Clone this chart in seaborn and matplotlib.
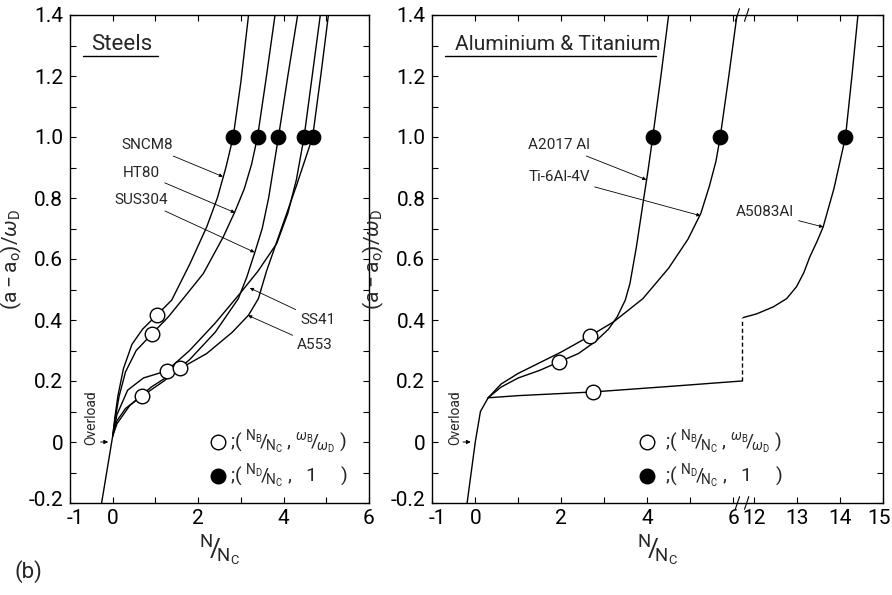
import numpy as np
import matplotlib
matplotlib.use("Agg")
import matplotlib.pyplot as plt
import matplotlib.transforms as mtransforms
import seaborn as sns

sns.set_theme(style="ticks")
plt.rcParams["font.family"] = ["Roboto", "DejaVu Sans"]
plt.rcParams["mathtext.fontset"] = "custom"
plt.rcParams["mathtext.rm"] = "Roboto"
plt.rcParams["mathtext.sf"] = "Roboto"
plt.rcParams["mathtext.it"] = "Roboto:italic"

# ---------------- Steels ----------------
steel_overload_x = [-0.26, 0.0]
steel_overload_y = [-0.20, 0.02]

sncm8_x = [0.0, 0.05, 0.12, 0.25, 0.45, 0.70, 1.03, 1.38, 1.81, 2.20, 2.45, 2.65, 2.82, 3.00, 3.18]
sncm8_y = [0.02, 0.08, 0.15, 0.24, 0.32, 0.37, 0.416, 0.465, 0.585, 0.705, 0.80, 0.90, 1.0, 1.18, 1.4]

ht80_x = [0.0, 0.05, 0.15, 0.30, 0.55, 0.91, 1.30, 1.62, 2.12, 2.59, 2.86, 3.08, 3.25, 3.39, 3.60, 3.80]
ht80_y = [0.02, 0.07, 0.15, 0.23, 0.30, 0.353, 0.41, 0.465, 0.552, 0.673, 0.755, 0.83, 0.91, 1.0, 1.2, 1.4]

sus304_x = [0.0, 0.10, 0.30, 0.68, 1.20, 1.80, 2.40, 2.94, 3.14, 3.33, 3.50, 3.65, 3.88, 4.10, 4.33]
sus304_y = [0.02, 0.07, 0.11, 0.15, 0.20, 0.27, 0.36, 0.47, 0.541, 0.623, 0.70, 0.80, 1.0, 1.2, 1.4]

ss41_x = [0.0, 0.10, 0.35, 0.72, 1.26, 1.80, 2.40, 2.98, 3.40, 3.84, 4.10, 4.30, 4.48, 4.67, 4.86]
ss41_y = [0.02, 0.09, 0.17, 0.21, 0.233, 0.30, 0.39, 0.487, 0.56, 0.651, 0.75, 0.86, 1.0, 1.2, 1.4]

a553_x = [0.0, 0.10, 0.40, 0.90, 1.58, 2.20, 2.80, 3.18, 3.41, 3.60, 3.90, 4.30, 4.68, 4.87, 5.05]
a553_y = [0.02, 0.06, 0.12, 0.18, 0.241, 0.29, 0.36, 0.416, 0.47, 0.56, 0.68, 0.84, 1.0, 1.2, 1.4]

steel_nb_x = [1.03, 0.91, 0.68, 1.26, 1.58]
steel_nb_y = [0.416, 0.353, 0.15, 0.233, 0.241]
steel_nd_x = [2.82, 3.39, 3.88, 4.48, 4.68]
steel_nd_y = [1.0, 1.0, 1.0, 1.0, 1.0]

# ---------------- Aluminium & Titanium ----------------
al_overload_x = [-0.19, 0.0, 0.12, 0.30]
al_overload_y = [-0.20, 0.0, 0.10, 0.145]

a2017_x = [0.30, 0.60, 1.00, 1.50, 1.94, 2.40, 2.80, 3.10, 3.30, 3.49, 3.60, 3.75, 3.90, 4.02, 4.13, 4.32, 4.50]
a2017_y = [0.145, 0.18, 0.21, 0.235, 0.262, 0.29, 0.33, 0.37, 0.41, 0.465, 0.52, 0.64, 0.78, 0.89, 1.0, 1.2, 1.4]

ti_x = [0.30, 0.60, 1.00, 1.50, 2.00, 2.66, 3.22, 3.90, 4.50, 4.95, 5.25, 5.45, 5.60, 5.70, 5.90, 6.09]
ti_y = [0.145, 0.19, 0.225, 0.26, 0.295, 0.347, 0.394, 0.47, 0.57, 0.665, 0.75, 0.84, 0.92, 1.0, 1.2, 1.4]

a5083_low_x = [0.30, 1.00, 2.73, 4.50, 6.22]
a5083_low_y = [0.145, 0.152, 0.164, 0.182, 0.20]
a5083_jump_x = [6.22, 6.22]
a5083_jump_y = [0.20, 0.408]
a5083_high_x = [11.74, 12.05, 12.44, 12.75, 12.98, 13.15, 13.29, 13.45, 13.60, 13.85, 14.12, 14.27, 14.41]
a5083_high_y = [0.408, 0.42, 0.443, 0.47, 0.509, 0.555, 0.607, 0.655, 0.705, 0.83, 1.0, 1.2, 1.4]

al_nb_x = [1.94, 2.66, 2.73]
al_nb_y = [0.262, 0.347, 0.164]
al_nd_x = [4.13, 5.70, 14.12]
al_nd_y = [1.0, 1.0, 1.0]

x_ticks_left = [-1, 0, 1, 2, 3, 4, 5, 6]
x_labels_left = ["-1", "0", "", "2", "", "4", "", "6"]
x_ticks_right = [-1, 0, 1, 2, 3, 4, 5, 6, 12, 13, 14, 15]
x_labels_right = ["-1", "0", "", "2", "", "4", "", "6", "12", "13", "14", "15"]
y_ticks = [-0.2, -0.1, 0.0, 0.1, 0.2, 0.3, 0.4, 0.5, 0.6, 0.7, 0.8, 0.9, 1.0, 1.1, 1.2, 1.3, 1.4]
y_labels = ["-0.2", "", "0", "", "0.2", "", "0.4", "", "0.6", "", "0.8", "", "1.0", "", "1.2", "", "1.4"]

# break in the N/Nc axis between 6.2 and 11.7
BREAK_LO, BREAK_HI = 6.2, 11.705
SHIFT = BREAK_HI - BREAK_LO


def fwd(x):
    x = np.asarray(x, dtype=float)
    return np.where(x <= BREAK_LO, x, np.where(x >= BREAK_HI, x - SHIFT, BREAK_LO))


def inv(f):
    f = np.asarray(f, dtype=float)
    return np.where(f <= BREAK_LO, f, f + SHIFT)


LW = 1.0
fig = plt.figure(figsize=(8.92, 5.95), dpi=100)
fig.patch.set_facecolor("white")
axL = fig.add_axes([70 / 892, 92 / 595, 299 / 892, 488 / 595])
axR = fig.add_axes([432.3 / 892, 92 / 595, 451 / 892, 488 / 595])
axR.set_xscale("function", functions=(fwd, inv))


def curve(ax, xs, ys, ls="-"):
    sns.lineplot(x=xs, y=ys, ax=ax, sort=False, estimator=None, color="black",
                 lw=LW, linestyle=ls, legend=False)


def shift_label(lab, dx, dy):
    lab.set_transform(lab.get_transform() + mtransforms.ScaledTranslation(
        dx / 72, dy / 72, fig.dpi_scale_trans))


def style_axes(ax, xt, xl, xlim):
    ax.set_xlim(*xlim)
    ax.set_ylim(-0.2, 1.4)
    ax.set_xticks(xt)
    ax.set_xticklabels(xl)
    ax.set_yticks(y_ticks)
    ax.set_yticklabels(y_labels)
    ax.tick_params(direction="in", length=4, width=0.8, top=True, right=True,
                   labelsize=15, colors="black")
    ax.tick_params(axis="y", pad=5)
    ax.tick_params(axis="x", pad=4)
    for s in ax.spines.values():
        s.set_linewidth(1.0)
        s.set_color("black")
    ax.set_facecolor("white")
    ax.set_ylabel(r"$(\mathsf{a-a_o})/\omega_\mathsf{D}$", fontsize=15, labelpad=3)
    ax.set_xlabel(r"$^{\mathsf{N}}\!/\!_{\mathsf{N_C}}$", fontsize=19, labelpad=4)
    ax.grid(False)
    # "-1" and "-0.2" share the lower-left corner
    shift_label(ax.get_xticklabels()[0], 4, 0)
    shift_label(ax.get_yticklabels()[0], 0, 3)


# ---- left panel ----
curve(axL, steel_overload_x, steel_overload_y)
for xs, ys in [(sncm8_x, sncm8_y), (ht80_x, ht80_y), (sus304_x, sus304_y),
               (ss41_x, ss41_y), (a553_x, a553_y)]:
    curve(axL, xs, ys)
sns.scatterplot(x=steel_nb_x, y=steel_nb_y, ax=axL, s=110, facecolor="white",
                edgecolor="black", linewidth=1.0, zorder=5)
sns.scatterplot(x=steel_nd_x, y=steel_nd_y, ax=axL, s=110, color="black",
                edgecolor="black", zorder=5)
style_axes(axL, x_ticks_left, x_labels_left, (-1, 6))

# ---- right panel ----
curve(axR, al_overload_x, al_overload_y)
curve(axR, a2017_x, a2017_y)
curve(axR, ti_x, ti_y)
curve(axR, a5083_low_x, a5083_low_y)
curve(axR, a5083_jump_x, a5083_jump_y, ls=(0, (3, 2)))
curve(axR, a5083_high_x, a5083_high_y)
sns.scatterplot(x=al_nb_x, y=al_nb_y, ax=axR, s=110, facecolor="white",
                edgecolor="black", linewidth=1.0, zorder=5)
sns.scatterplot(x=al_nd_x, y=al_nd_y, ax=axR, s=110, color="black",
                edgecolor="black", zorder=5)
style_axes(axR, x_ticks_right, x_labels_right, (-1, 15))
shift_label(axR.get_xticklabels()[-1], -3, 0)

# break marks on the top and bottom axes
for yb in (0.0, 1.0):
    axR.plot([6.205, 11.70], [yb, yb], color="white", lw=2.0,
             transform=axR.get_xaxis_transform(), clip_on=False, zorder=6)
    for xb in (6.10, 11.82):
        axR.plot([xb - 0.05, xb + 0.05], [yb - 0.013, yb + 0.013], color="black",
                 lw=0.8, transform=axR.get_xaxis_transform(), clip_on=False, zorder=7)

# panel titles
axL.text(0.07, 0.94, "Steels", transform=axL.transAxes, fontsize=16, ha="left", va="center")
axL.plot([0.045, 0.295], [0.915, 0.915], transform=axL.transAxes, color="black", lw=1.0)
axR.text(0.05, 0.94, "Aluminium & Titanium", transform=axR.transAxes, fontsize=15,
         ha="left", va="center")
axR.plot([0.028, 0.497], [0.915, 0.915], transform=axR.transAxes, color="black", lw=1.0)

# overload arrows
for ax in (axL, axR):
    ax.annotate("", xy=(-0.04, 0.0), xytext=(-0.35, 0.0),
                arrowprops=dict(arrowstyle="-|>", color="black", lw=0.7, mutation_scale=6))
axL.text(-0.51, 0.08, "Overload", rotation=90, fontsize=10, ha="center", va="center")
axR.text(-0.47, 0.08, "Overload", rotation=90, fontsize=10, ha="center", va="center")


# curve names with leaders
def leader(ax, name, txy, pxy, ha="right", fs=11):
    ax.annotate(name, xy=pxy, xytext=txy, fontsize=fs, ha=ha, va="center",
                arrowprops=dict(arrowstyle="-|>", color="black", lw=0.6,
                                mutation_scale=5, shrinkA=1, shrinkB=0))


leader(axL, "SNCM8", (1.41, 0.973), (2.58, 0.87))
leader(axL, "HT80", (1.11, 0.882), (2.86, 0.752))
leader(axL, "SUS304", (1.30, 0.793), (3.32, 0.622))
leader(axL, "SS41", (4.39, 0.40), (3.21, 0.505), ha="left")
leader(axL, "A553", (4.32, 0.317), (3.17, 0.415), ha="left")
leader(axR, "A2017 Al", (2.67, 0.973), (3.98, 0.86))
leader(axR, "Ti-6Al-4V", (2.67, 0.868), (5.24, 0.742))
leader(axR, "A5083Al", (12.92, 0.754), (13.6, 0.705))

# key for the symbols
key_open = r";( $^{\mathsf{N_B}}\!/\!_{\mathsf{N_C}}$ , $^{\omega_\mathsf{B}}\!/\!_{\omega_\mathsf{D}}$ )"
key_fill = r";( $^{\mathsf{N_D}}\!/\!_{\mathsf{N_C}}$ ,   1     )"
for ax, x0 in ((axL, 0.495), (axR, 0.475)):
    ax.scatter([x0], [0.125], s=110, facecolor="white", edgecolor="black", lw=1.0,
               transform=ax.transAxes, zorder=5, clip_on=False)
    ax.scatter([x0], [0.056], s=110, color="black", transform=ax.transAxes, zorder=5)
    ax.text(x0 + 0.04, 0.125, key_open, transform=ax.transAxes, fontsize=14, va="center")
    ax.text(x0 + 0.04, 0.056, key_fill, transform=ax.transAxes, fontsize=14, va="center")

fig.text(15 / 892, 1 - 572 / 595, "(b)", fontsize=16, ha="left", va="center")

fig.savefig("out.png", dpi=100, facecolor="white")
